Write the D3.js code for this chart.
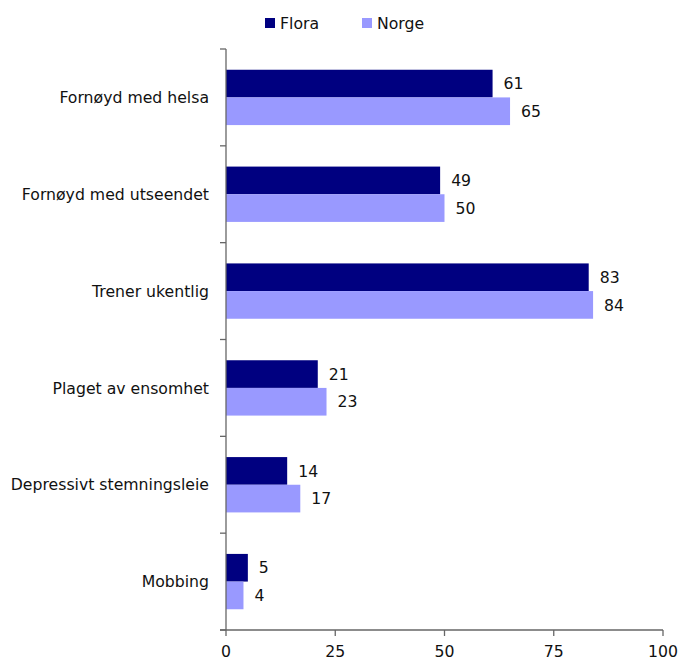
<!DOCTYPE html>
<html><head><meta charset="utf-8">
<script src="https://cdn.jsdelivr.net/npm/d3@7"></script>
<style>body{margin:0;background:#fff}svg{display:block}</style>
</head><body>
<script>
const categories = ["Fornøyd med helsa","Fornøyd med utseendet","Trener ukentlig","Plaget av ensomhet","Depressivt stemningsleie","Mobbing"];
const seriesNames = ["Flora","Norge"];
const flora = [61,49,83,21,14,5];
const norge = [65,50,84,23,17,4];
const xTicks = [0,25,50,75,100];
const colors = ["#000080","#9999FF"];

(function(){
const W=681,H=662;
const svg=d3.select("body").append("svg").attr("width",W).attr("height",H);
const font="Tahoma, 'DejaVu Sans', sans-serif";
const fs=15.7;
const mLeft=226,mRight=663,mTop=49,mBottom=630;
const x=d3.scaleLinear().domain([0,100]).range([mLeft,mRight]);
const y=d3.scaleBand().domain(categories).range([mTop,mBottom]);
const inner=d3.scaleBand().domain(seriesNames).range([0,y.bandwidth()]).paddingOuter(0.75).paddingInner(0);

const data=categories.map((c,i)=>({c,vals:[flora[i],norge[i]]}));
const g=svg.append("g");
data.forEach(d=>{
  d.vals.forEach((v,j)=>{
    const yy=y(d.c)+inner(seriesNames[j]);
    g.append("rect").attr("x",x(0)).attr("y",yy).attr("width",x(v)-x(0)).attr("height",inner.bandwidth()).attr("fill",colors[j]);
    g.append("text").attr("x",x(v)+11).attr("y",yy+inner.bandwidth()/2).attr("dy","0.36em")
      .attr("font-family",font).attr("font-size",fs).attr("fill","#111").text(v);
  });
});

categories.forEach(c=>{
  svg.append("text").attr("x",mLeft-17).attr("y",y(c)+y.bandwidth()/2).attr("dy","0.36em")
   .attr("text-anchor","end").attr("font-family",font).attr("font-size",fs).attr("fill","#111").text(c);
});

const ax=svg.append("g").attr("stroke","#666").attr("stroke-width",1.3);
ax.append("line").attr("x1",mLeft).attr("x2",mLeft).attr("y1",mTop).attr("y2",mBottom);
[...categories.map(c=>y(c)),mBottom].forEach(t=>{
  ax.append("line").attr("x1",mLeft-6).attr("x2",mLeft).attr("y1",t).attr("y2",t);
});
ax.append("line").attr("x1",mLeft-6).attr("x2",mRight).attr("y1",mBottom).attr("y2",mBottom);
xTicks.forEach(t=>{
  ax.append("line").attr("x1",x(t)).attr("x2",x(t)).attr("y1",mBottom).attr("y2",mBottom+6);
  svg.append("text").attr("x",x(t)).attr("y",mBottom+27).attr("text-anchor","middle")
    .attr("font-family",font).attr("font-size",fs).attr("fill","#111").text(t);
});

const leg=[{n:"Flora",x:265},{n:"Norge",x:362}];
leg.forEach((l,i)=>{
  svg.append("rect").attr("x",l.x).attr("y",18).attr("width",10).attr("height",10).attr("fill",colors[i]);
  svg.append("text").attr("x",l.x+15).attr("y",23).attr("dy","0.36em").attr("font-family",font)
    .attr("font-size",fs).attr("fill","#111").text(l.n);
});
})();
</script>
</body></html>
